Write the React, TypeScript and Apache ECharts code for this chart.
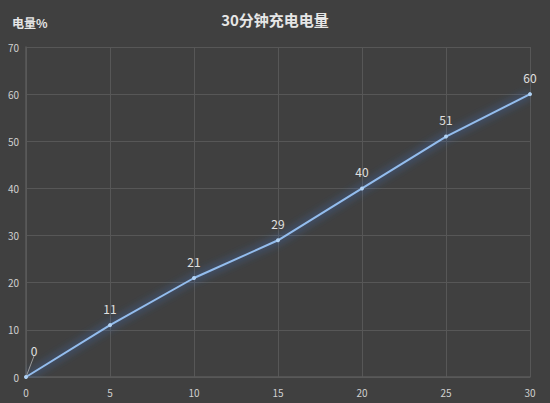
import React, { useEffect, useRef } from "react";
import * as echarts from "echarts";

const minutes = [0, 5, 10, 15, 20, 25, 30];
const charge = [0, 11, 21, 29, 40, 51, 60];
const titleText = "30分钟充电电量";
const yName = "电量%";

export default function App() {
  const ref = useRef<HTMLDivElement>(null);
  useEffect(() => {
    const chart = echarts.init(ref.current!, null, { renderer: "svg" });
    const font = "'Noto Sans CJK SC', 'Noto Sans', sans-serif";
    chart.setOption({
      animation: false,
      backgroundColor: "#404040",
      title: {
        text: titleText,
        left: "center",
        top: 7,
        textStyle: { color: "#e6e6e6", fontSize: 15, fontWeight: "bold", fontFamily: font },
      },
      grid: { left: 26, right: 20, top: 47, bottom: 26, containLabel: false },
      xAxis: {
        type: "value",
        min: 0,
        max: 30,
        interval: 5,
        axisLine: { show: true, lineStyle: { color: "#5a5a5a", width: 1.5 } },
        axisTick: { show: false },
        splitLine: { show: true, lineStyle: { color: "#575757", width: 1 } },
        axisLabel: { color: "#d0d0d0", fontSize: 10, margin: 10, fontFamily: font },
      },
      yAxis: {
        type: "value",
        min: 0,
        max: 70,
        interval: 10,
        name: yName,
        nameLocation: "end",
        nameGap: 19,
        nameTextStyle: { color: "#e6e6e6", fontSize: 12, fontWeight: "bold", align: "left", padding: [0, 0, 0, -14], fontFamily: font },
        axisLine: { show: true, lineStyle: { color: "#5a5a5a", width: 1.5 } },
        axisTick: { show: false },
        splitLine: { show: true, lineStyle: { color: "#575757", width: 1 } },
        axisLabel: { color: "#d0d0d0", fontSize: 10, margin: 7, fontFamily: font },
      },
      series: [
        {
          type: "line",
          data: minutes.map((m, i) =>
            i === 0
              ? { value: [m, charge[i]], labelLine: { show: true, lineStyle: { color: "#9a9a9a", width: 1 } } }
              : { value: [m, charge[i]] }
          ),
          symbol: "circle",
          symbolSize: 4,
          itemStyle: { color: "#b0d2f5" },
          lineStyle: {
            color: "#93bdee",
            width: 2,
            shadowColor: "rgba(60,130,240,1)",
            shadowBlur: 10,
          },
          label: {
            show: true,
            position: "top",
            distance: 9,
            color: "#e0e0e0",
            fontSize: 12,
            fontFamily: font,
            formatter: (p: any) => String(p.value[1]),
          },
          labelLayout: (params: any) =>
            params.dataIndex === 0 ? { dx: 8, dy: -10 } : {},
        },
      ],
    });
    return () => chart.dispose();
  }, []);
  return <div ref={ref} style={{ width: 550, height: 403, position: "absolute", left: 0, top: 0 }} />;
}
